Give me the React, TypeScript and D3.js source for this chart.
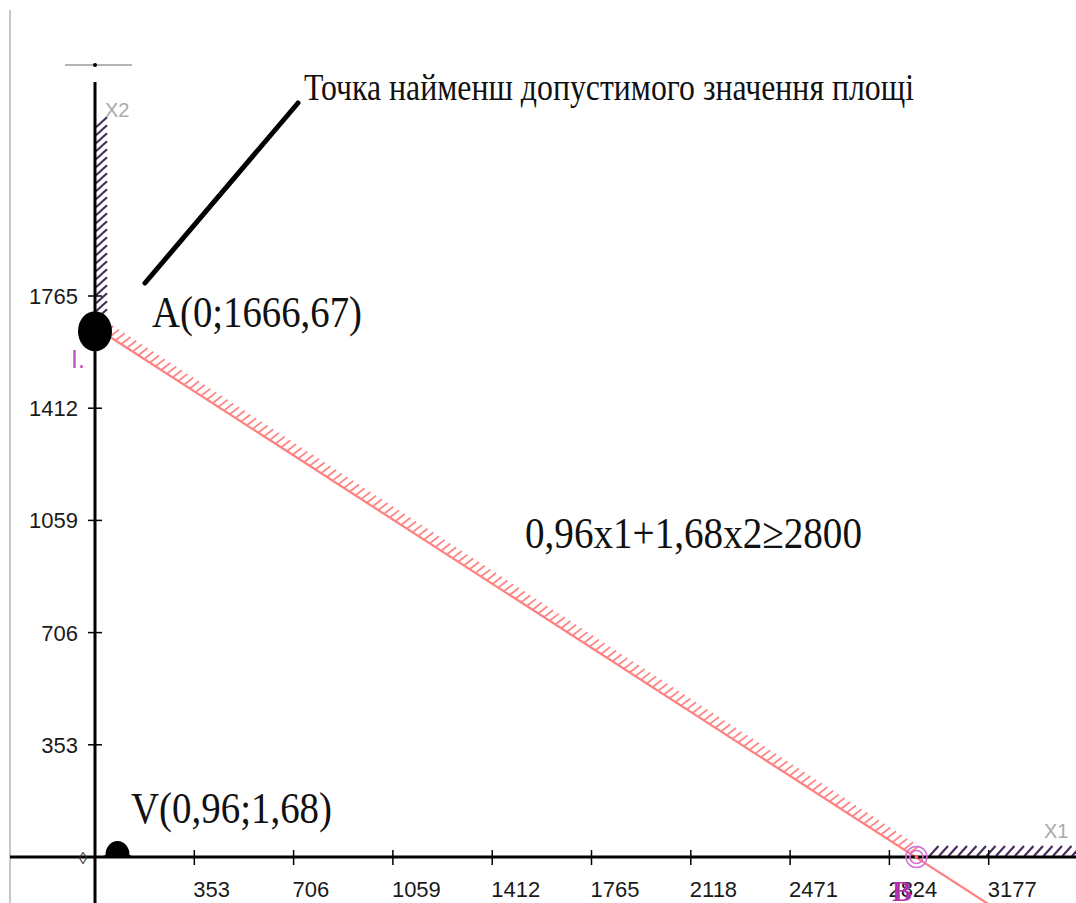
import React, { useEffect, useRef } from 'react';
import * as d3 from 'd3';

const xTicks = [353, 706, 1059, 1412, 1765, 2118, 2471, 2824, 3177];
const yTicks = [353, 706, 1059, 1412, 1765];
const coefs = [0.96, 1.68];
const rhs = 2800;
const pointA = [0, 1666.67];
const pointB = [2916.67, 0];
// V is drawn slightly off the origin, as in the original figure
const pointV = [80, 0];
const xAxisHatchEnd = 3520;
const yAxisHatchEnd = 2300;

const W = 1076;
const H = 903;

const App: React.FC = () => {
  const svgRef = useRef<SVGSVGElement>(null);

  useEffect(() => {
    if (!svgRef.current) return;
    const svg = d3.select(svgRef.current);
    svg.selectAll('*').remove();

    const x = d3.scaleLinear().domain([0, 3177]).range([95, 988.7]);
    const y = d3.scaleLinear().domain([0, 1765]).range([857, 296]);
    const serif = '"Liberation Serif", "Times New Roman", serif';
    const sans = '"Liberation Sans", Arial, sans-serif';

    // left grey border
    svg.append('line')
      .attr('x1', 10).attr('x2', 10).attr('y1', 10).attr('y2', H)
      .attr('stroke', '#c8c8c8').attr('stroke-width', 2);

    // constraint line 0.96x1 + 1.68x2 = 2800
    const lineY = (xv: number) => (rhs - coefs[0] * xv) / coefs[1];
    const xEnd = 3300;
    svg.append('line')
      .attr('x1', x(0)).attr('y1', y(lineY(0)))
      .attr('x2', x(xEnd)).attr('y2', y(lineY(xEnd)))
      .attr('stroke', '#ff8080').attr('stroke-width', 2.2);

    // hatching on the feasible side, from A to B
    const ax = x(pointA[0]), ay = y(pointA[1]);
    const bx = x(pointB[0]), by = y(pointB[1]);
    const len = Math.hypot(bx - ax, by - ay);
    const ux = (bx - ax) / len, uy = (by - ay) / len;
    const nx = uy * 0.85 + ux * 0.3, ny = -ux * 0.85 + uy * 0.3;
    const redHatch = d3.range(4, len - 4, 6.8);
    svg.append('g').selectAll('line').data(redHatch).enter().append('line')
      .attr('x1', (t) => ax + ux * t).attr('y1', (t) => ay + uy * t)
      .attr('x2', (t) => ax + ux * t + nx * 13).attr('y2', (t) => ay + uy * t + ny * 13)
      .attr('stroke', '#ff8585').attr('stroke-width', 1.8);

    // x-axis hatching right of B
    const xh = d3.range(x(pointB[0]) + 14, x(xAxisHatchEnd), 9.5);
    svg.append('g').selectAll('line').data(xh).enter().append('line')
      .attr('x1', (d) => d).attr('y1', y(0) - 1)
      .attr('x2', (d) => d + 9).attr('y2', y(0) - 11)
      .attr('stroke', '#4a2c5c').attr('stroke-width', 2.2);

    // y-axis hatching above A
    const yh = d3.range(y(pointA[1]) - 8, y(yAxisHatchEnd), -8);
    svg.append('g').selectAll('line').data(yh).enter().append('line')
      .attr('x1', x(0) + 1).attr('y1', (d) => d)
      .attr('x2', x(0) + 12).attr('y2', (d) => d - 10)
      .attr('stroke', '#4a2c5c').attr('stroke-width', 2.2);

    // axes
    svg.append('line')
      .attr('x1', 10).attr('x2', W).attr('y1', y(0)).attr('y2', y(0))
      .attr('stroke', '#000').attr('stroke-width', 3);
    svg.append('line')
      .attr('x1', x(0)).attr('x2', x(0)).attr('y1', 82).attr('y2', H)
      .attr('stroke', '#000').attr('stroke-width', 3);
    svg.append('line')
      .attr('x1', 65).attr('x2', 132).attr('y1', 65).attr('y2', 65)
      .attr('stroke', '#9a9a9a').attr('stroke-width', 1.5);
    svg.append('circle').attr('cx', x(0)).attr('cy', 65).attr('r', 2).attr('fill', '#000');

    // ticks
    svg.append('g').selectAll('line').data(xTicks).enter().append('line')
      .attr('x1', (d) => x(d)).attr('x2', (d) => x(d))
      .attr('y1', y(0) - 7).attr('y2', y(0) + 8)
      .attr('stroke', '#000').attr('stroke-width', 1.5);
    svg.append('g').selectAll('line').data(yTicks).enter().append('line')
      .attr('x1', x(0) - 7).attr('x2', x(0) + 7)
      .attr('y1', (d) => y(d)).attr('y2', (d) => y(d))
      .attr('stroke', '#000').attr('stroke-width', 1.5);

    svg.append('g').selectAll('text').data(xTicks).enter().append('text')
      .attr('x', (d) => x(d) - 1).attr('y', 897)
      .attr('font-family', sans).attr('font-size', 22).attr('fill', '#1a1a1a')
      .text((d) => String(d));
    svg.append('g').selectAll('text').data(yTicks).enter().append('text')
      .attr('x', 78).attr('y', (d) => y(d) + 8)
      .attr('text-anchor', 'end')
      .attr('font-family', sans).attr('font-size', 22).attr('fill', '#1a1a1a')
      .text((d) => String(d));

    // axis names
    svg.append('text').attr('x', 105).attr('y', 117)
      .attr('font-family', sans).attr('font-size', 20).attr('fill', '#aaa').text('X2');
    svg.append('text').attr('x', 1044).attr('y', 838)
      .attr('font-family', sans).attr('font-size', 20).attr('fill', '#aaa').text('X1');
    svg.append('text').attr('x', 83).attr('y', 864).attr('text-anchor', 'middle')
      .attr('font-family', sans).attr('font-size', 17).attr('fill', '#333').text('◊');

    // point A
    svg.append('ellipse').attr('cx', ax).attr('cy', ay + 4).attr('rx', 17).attr('ry', 20).attr('fill', '#000');
    svg.append('text').attr('x', 71).attr('y', 368)
      .attr('font-family', sans).attr('font-size', 25).attr('fill', '#c050c0').text('I.');

    // point B marker
    svg.append('circle').attr('cx', bx + 1).attr('cy', by).attr('r', 10.5)
      .attr('fill', 'none').attr('stroke', '#d070d0').attr('stroke-width', 1.5);
    svg.append('circle').attr('cx', bx + 1).attr('cy', by).attr('r', 6.5)
      .attr('fill', 'none').attr('stroke', '#d070d0').attr('stroke-width', 1.5);
    svg.append('circle').attr('cx', bx + 1).attr('cy', by).attr('r', 2).attr('fill', '#ff6060');
    svg.append('text').attr('x', 892).attr('y', 901)
      .attr('font-family', serif).attr('font-size', 30).attr('font-weight', 'bold')
      .attr('fill', '#b030b0').text('B');

    // point V
    const vx = x(pointV[0]), vy = y(pointV[1]);
    svg.append('path')
      .attr('d', `M${vx - 17},${vy} L${vx - 12},${vy - 2} A12,14 0 0 1 ${vx + 12},${vy - 2} L${vx + 17},${vy} Z`)
      .attr('fill', '#000');

    // labels
    const label = (tx: number, ty: number, txt: string, size: number, sy: number, tl?: number) => {
      const t = svg.append('text')
        .attr('transform', `translate(${tx},${ty}) scale(1,${sy})`)
        .attr('font-family', serif).attr('font-size', size).attr('fill', '#111')
        .text(txt);
      if (tl) t.attr('textLength', tl).attr('lengthAdjust', 'spacingAndGlyphs');
    };
    label(152, 327, 'A(0;1666,67)', 39, 1.13, 210);
    label(525, 548, '0,96x1+1,68x2≥2800', 39, 1.13, 337);
    label(131, 823, 'V(0,96;1,68)', 39, 1.13, 201);
    label(304, 100, 'Точка найменш допустимого значення площі', 33, 1.15, 610);

    // pointer
    svg.append('line')
      .attr('x1', 145).attr('y1', 283).attr('x2', 298).attr('y2', 103)
      .attr('stroke', '#000').attr('stroke-width', 5).attr('stroke-linecap', 'round');
  }, []);

  return (
    <svg
      ref={svgRef}
      width={W}
      height={H}
      viewBox={`0 0 ${W} ${H}`}
      style={{ position: 'fixed', left: 0, top: 0, background: '#fff' }}
    />
  );
};

export default App;
